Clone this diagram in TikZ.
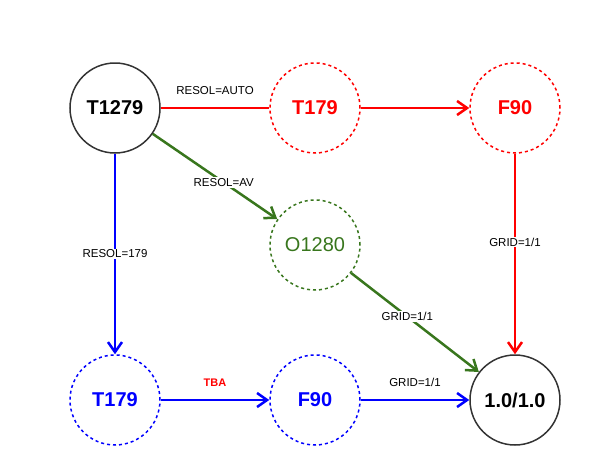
\documentclass[tikz,border=0pt]{standalone}
\usepackage{fontspec}
\setmainfont{Liberation Sans}
\usetikzlibrary{graphs,quotes,arrows.meta}
\definecolor{grgreen}{RGB}{56,118,29}
\definecolor{grdark}{RGB}{51,51,51}

\begin{document}
\begin{tikzpicture}[x=1pt,y=-1pt,
  state/.style={circle,minimum size=90pt,inner sep=0pt,line width=1.5pt,
    font=\fontsize{20}{24}\selectfont\bfseries},
  solidstate/.style={state,draw=grdark},
  dashstate/.style={state,draw,dash pattern=on 3pt off 3pt},
  lbl/.style={font=\fontsize{11.5}{13}\selectfont,text=black,inner sep=1pt},
  onlbl/.style={lbl,fill=white},
  flow/.style={line width=2.5pt,-{Straight Barb[length=10pt,width=14pt]}}]
\useasboundingbox (0,0) rectangle (590,474);
\node [solidstate] (src) at (115,108) {T1279};
\node [dashstate,red,text=red] (rt) at (315,108) {T179};
\node [dashstate,red,text=red] (rf) at (515,108) {F90};
\node [dashstate,grgreen,font=\fontsize{20}{24}\selectfont] (go) at (315,245) {O1280};
\node [dashstate,blue,text=blue] (bt) at (115,400) {T179};
\node [dashstate,blue,text=blue] (bf) at (315,400) {F90};
\node [solidstate] (dst) at (515,400) {1.0/1.0};
% edges
\draw [red,line width=2.5pt] (src) -- node [lbl,above=11pt] {RESOL=AUTO} (rt);
\draw [flow,red] (rt) -- (rf);
\draw [flow,red] (rf) -- node [onlbl,pos=0.44] {GRID=1/1} (dst);
\draw [flow,grgreen] (src) -- node [onlbl,pos=0.57] {RESOL=AV} (go);
\draw [flow,grgreen] (go) -- node [onlbl,pos=0.44] {GRID=1/1} (dst);
\draw [flow,blue] (src) -- node [onlbl,pos=0.5] {RESOL=179} (bt);
\draw [flow,blue] (bt) -- node [lbl,above=11pt,text=red,font=\fontsize{11}{13}\selectfont\bfseries] {TBA} (bf);
\draw [flow,blue] (bf) -- node [lbl,above=11pt] {GRID=1/1} (dst);
\end{tikzpicture}
\end{document}
